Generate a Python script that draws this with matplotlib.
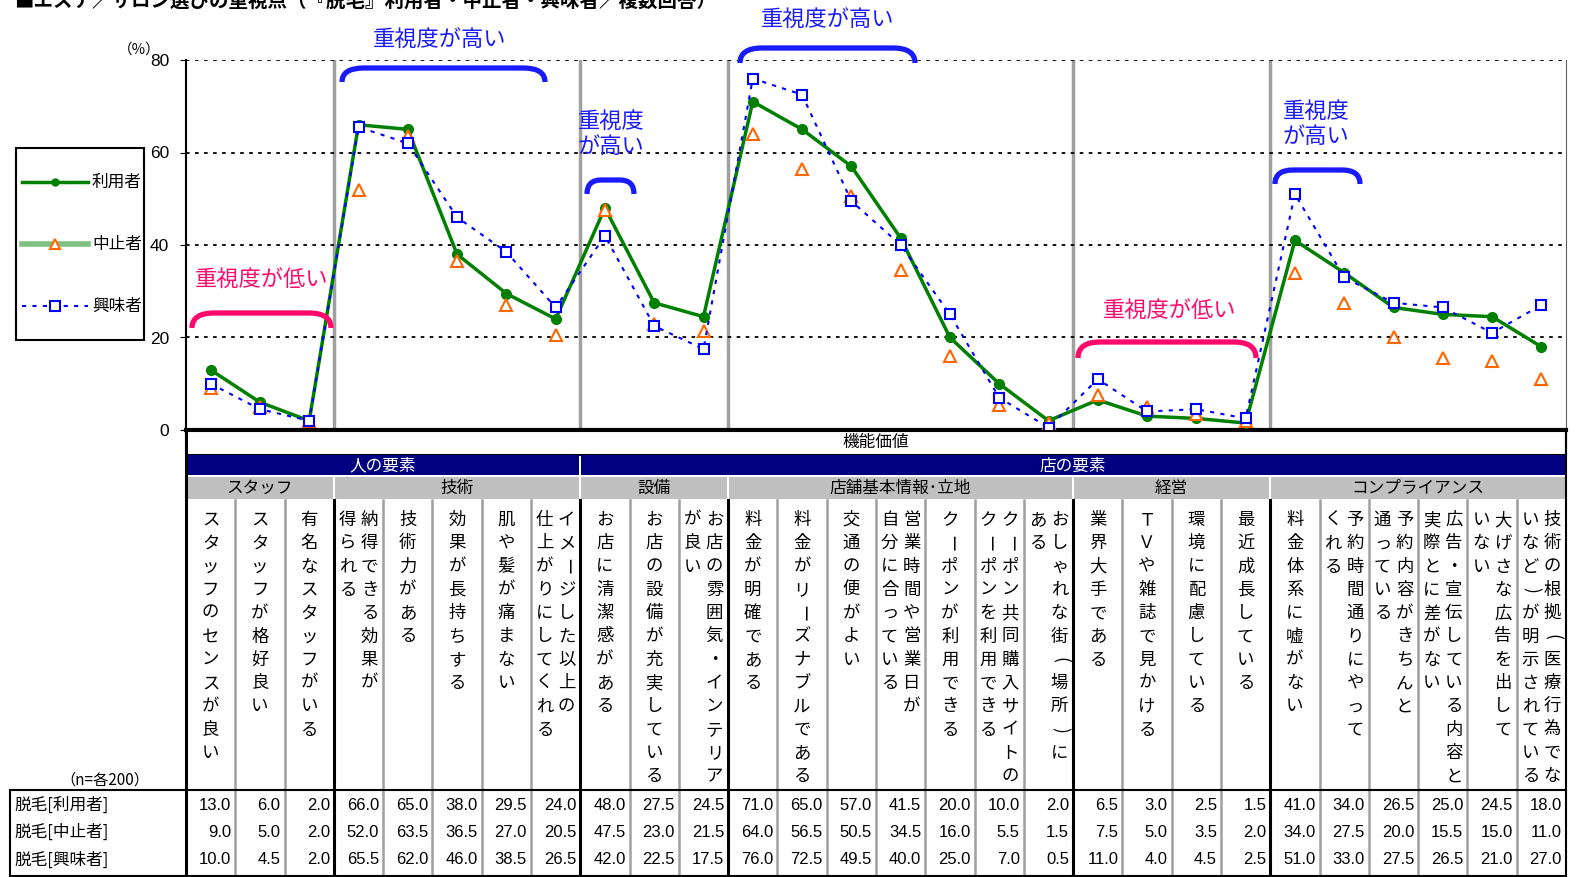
import numpy as np
import matplotlib
matplotlib.use("Agg")
import matplotlib.pyplot as plt
from matplotlib.path import Path
from matplotlib.patches import PathPatch, Rectangle
from matplotlib.lines import Line2D
from matplotlib import font_manager

plt.rcParams['font.family'] = ['Noto Sans CJK JP', 'DejaVu Sans']

# data
labels = [
    "スタッフのセンスが良い", "スタッフが格好良い", "有名なスタッフがいる",
    "納得できる効果が|得られる", "技術力がある", "効果が長持ちする", "肌や髪が痛まない",
    "イメージした以上の|仕上がりにしてくれる",
    "お店に清潔感がある", "お店の設備が充実している", "お店の雰囲気・インテリア|が良い",
    "料金が明確である", "料金がリーズナブルである", "交通の便がよい",
    "営業時間や営業日が|自分に合っている", "クーポンが利用できる",
    "クーポン共同購入サイトの|クーポンを利用できる", "おしゃれな街（場所）に|ある",
    "業界大手である", "ＴＶや雑誌で見かける", "環境に配慮している", "最近成長している",
    "料金体系に嘘がない", "予約時間通りにやって|くれる", "予約内容がきちんと|通っている",
    "広告・宣伝している内容と|実際とに差がない", "大げさな広告を出して|いない",
    "技術の根拠（医療行為でな|いなど）が明示されている",
]
series_names = ["利用者", "中止者", "興味者"]
row_names = ["脱毛[利用者]", "脱毛[中止者]", "脱毛[興味者]"]
riyou = [13.0, 6.0, 2.0, 66.0, 65.0, 38.0, 29.5, 24.0, 48.0, 27.5, 24.5, 71.0, 65.0, 57.0,
         41.5, 20.0, 10.0, 2.0, 6.5, 3.0, 2.5, 1.5, 41.0, 34.0, 26.5, 25.0, 24.5, 18.0]
chushi = [9.0, 5.0, 2.0, 52.0, 63.5, 36.5, 27.0, 20.5, 47.5, 23.0, 21.5, 64.0, 56.5, 50.5,
          34.5, 16.0, 5.5, 1.5, 7.5, 5.0, 3.5, 2.0, 34.0, 27.5, 20.0, 15.5, 15.0, 11.0]
kyomi = [10.0, 4.5, 2.0, 65.5, 62.0, 46.0, 38.5, 26.5, 42.0, 22.5, 17.5, 76.0, 72.5, 49.5,
         40.0, 25.0, 7.0, 0.5, 11.0, 4.0, 4.5, 2.5, 51.0, 33.0, 27.5, 26.5, 21.0, 27.0]
groups = ["スタッフ", "技術", "設備", "店舗基本情報･立地", "経営", "コンプライアンス"]
group_sizes = [3, 5, 3, 7, 4, 6]
big_groups = ["人の要素", "店の要素"]
big_sizes = [8, 20]
yticks = [0, 20, 40, 60, 80]

#Narrow font for the numbers, if there is one
names = {f.name for f in font_manager.fontManager.ttflist}
num_font = "Liberation Sans Narrow" if "Liberation Sans Narrow" in names else "Liberation Sans"
num_size = 13.5 if num_font == "Liberation Sans Narrow" else 12

#Layout (pixels)
W, H = 1576, 877
X0, X1 = 186, 1566
Y_TOP, Y_BOT = 60, 430
n = len(labels)
cw = (X1 - X0) / n
bounds = np.cumsum(group_sizes)[:-1]

fig = plt.figure(figsize=(W / 100, H / 100), dpi=100)

#Chart
ax = fig.add_axes([X0 / W, 1 - Y_BOT / H, (X1 - X0) / W, (Y_BOT - Y_TOP) / H])
x = np.arange(n) + 0.5
ax.plot(x, riyou, color="#008000", lw=2.5, marker="o", ms=7, zorder=4)
ax.plot(x, chushi, ls="none", marker="^", ms=8, mfc="white", mec="#ff6600", mew=1.5, zorder=5)
ax.plot(x, kyomi, color="#0000ff", lw=1.5, ls=(0, (2, 3)), marker="s", ms=7,
        mfc="white", mec="#0000ff", mew=1.5, zorder=6)
for b in bounds:
    ax.axvline(b, color="#a0a0a0", lw=2.5, zorder=1)
for t in yticks[1:]:
    ax.axhline(t, color="black", lw=1.3, ls=(0, (2, 3)), zorder=2)
ax.set_xlim(0, n)
ax.set_ylim(0, 80)
ax.set_xticks([])
ax.set_yticks(yticks)
ax.set_yticklabels([str(t) for t in yticks], fontsize=12.5, family="Liberation Sans")
ax.tick_params(axis="y", length=4, pad=8)
ax.spines["top"].set_visible(False)
ax.spines["left"].set_linewidth(1.5)
ax.spines["right"].set_color("#606060")
ax.spines["bottom"].set_linewidth(3)
ax.patch.set_alpha(0)

#Overlay for table, legend and notes
ov = fig.add_axes([0, 0, 1, 1], zorder=5)
ov.set_xlim(0, W)
ov.set_ylim(H, 0)
ov.axis("off")
ov.patch.set_alpha(0)

ov.text(14, 1, "■エステ／サロン選びの重視点（『脱毛』利用者・中止者・興味者／複数回答）",
        fontsize=14, fontweight="bold", va="center", ha="left")
ov.text(118, 50, "（%）", fontsize=10.5, va="center", ha="left")

#Legend
ov.add_patch(Rectangle((16, 148), 128, 192, fill=False, ec="black", lw=1.5))
ov.add_line(Line2D([22, 55, 88], [182, 182, 182], color="#008000", lw=2.5, marker="o", ms=5,
                   markevery=[1]))
ov.add_line(Line2D([22, 55, 88], [244, 244, 244], color="#80c080", lw=4, marker="^", ms=7,
                   mfc="white", mec="#ff6600", mew=1.5, markevery=[1]))
ov.add_line(Line2D([22, 55, 88], [306, 306, 306], color="#0000ff", lw=1.5, ls=(0, (2, 3)),
                   marker="s", ms=7, mfc="white", mec="#0000ff", mew=1.5, markevery=[1]))
for name, yy in zip(series_names, [182, 244, 306]):
    ov.text(92, yy, name, fontsize=12, va="center", ha="left")


def bracket(x0, x1, yt, yb, color, r=22):
    verts = [(x0, yb), (x0, yt), (x0 + r, yt), (x1 - r, yt), (x1, yt), (x1, yb)]
    codes = [Path.MOVETO, Path.CURVE3, Path.CURVE3, Path.LINETO, Path.CURVE3, Path.CURVE3]
    ov.add_patch(PathPatch(Path(verts, codes), fill=False, ec=color, lw=3.8, capstyle="butt"))


blue, pink = "#1a1aff", "#ff0a6c"
bracket(342, 545, 68, 82, blue)
ov.text(440, 40, "重視度が高い", color=blue, fontsize=16, ha="center", va="center")
bracket(740, 915, 48, 63, blue)
ov.text(828, 20, "重視度が高い", color=blue, fontsize=16, ha="center", va="center")
bracket(587, 634, 180, 194, blue, r=14)
ov.text(578, 134, "重視度\nが高い", color=blue, fontsize=16, ha="left", va="center", linespacing=1.1)
bracket(1275, 1360, 170, 184, blue, r=18)
ov.text(1283, 124, "重視度\nが高い", color=blue, fontsize=16, ha="left", va="center", linespacing=1.1)
bracket(192, 331, 313, 328, pink)
ov.text(262, 280, "重視度が低い", color=pink, fontsize=16, ha="center", va="center")
bracket(1078, 1256, 342, 358, pink)
ov.text(1170, 311, "重視度が低い", color=pink, fontsize=16, ha="center", va="center")

#Table header rows
ov.add_patch(Rectangle((X0, 431), X1 - X0, 24, fc="white", ec="black", lw=1.5))
ov.text((X0 + X1) / 2, 443, "機能価値", fontsize=12, ha="center", va="center")
start = 0
for name, size in zip(big_groups, big_sizes):
    a, b = X0 + start * cw, X0 + (start + size) * cw
    ov.add_patch(Rectangle((a + 1, 455), b - a - 2, 20, fc="#000080", ec="none"))
    ov.text((a + b) / 2, 466, name, color="white", fontsize=12, ha="center", va="center")
    start += size
start = 0
for name, size in zip(groups, group_sizes):
    a, b = X0 + start * cw, X0 + (start + size) * cw
    ov.add_patch(Rectangle((a + 1, 477), b - a - 2, 22, fc="#c0c0c0", ec="none"))
    ov.text((a + b) / 2, 488, name, fontsize=12, ha="center", va="center")
    start += size

#Vertical labels: long bar and brackets are turned a quarter
turn = {"ー": "ー", "（": "(", "）": ")"}
for i, lab in enumerate(labels):
    cx = X0 + (i + 0.5) * cw
    cols = lab.split("|")
    offs = [0] if len(cols) == 1 else [11, -11]
    for col, off in zip(cols, offs):
        for k, ch in enumerate(col):
            ov.text(cx + off, 520 + k * 23.3, turn.get(ch, ch), fontsize=12.5,
                    ha="center", va="center", rotation=-90 if ch in turn else 0,
                    rotation_mode="anchor")

#Grid lines of table
for i in range(1, n):
    xx = X0 + i * cw
    if i in bounds:
        ov.plot([xx, xx], [500, H], color="black", lw=2.2)
    else:
        ov.plot([xx, xx], [500, H], color="#a0a0a0", lw=1.8)
ov.plot([X0, X0], [430, H], color="black", lw=2.2)
ov.plot([X1, X1], [430, H], color="black", lw=1.5)
ov.plot([10, X1], [790, 790], color="black", lw=1.5)
ov.plot([10, 10], [790, H], color="black", lw=1.5)
ov.plot([10, X1], [H - 1, H - 1], color="black", lw=1.5)

ov.text(60, 780, "（n=各200）", fontsize=11, ha="left", va="center")
for r, (rn, vals) in enumerate(zip(row_names, [riyou, chushi, kyomi])):
    yy = 805 + r * 27.5
    ov.text(14, yy, rn, fontsize=12, ha="left", va="center")
    for i, v in enumerate(vals):
        ov.text(X0 + (i + 1) * cw - 4, yy, f"{v:.1f}", fontsize=num_size, family=num_font,
                ha="right", va="center")

fig.savefig("out.png", dpi=100)
plt.close()
